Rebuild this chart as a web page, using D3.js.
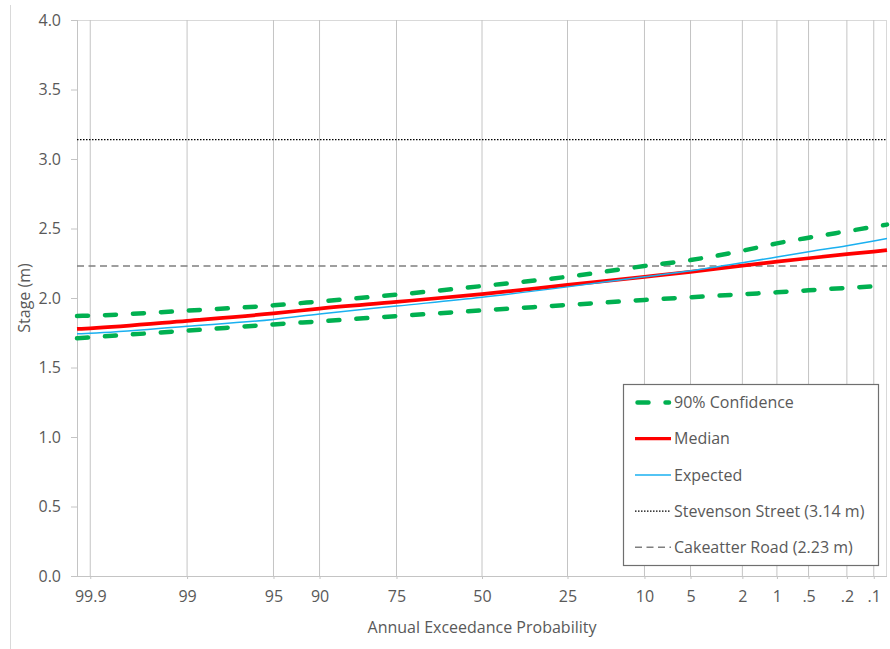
<!DOCTYPE html>
<html>
<head>
<meta charset="utf-8">
<script src="https://cdn.jsdelivr.net/npm/d3@7/dist/d3.min.js"></script>
<style>
  html, body { margin: 0; padding: 0; background: #fff; }
  svg { display: block; font-family: "Open Sans", sans-serif; }
</style>
</head>
<body>
<svg id="chart" width="890" height="649"></svg>
<script>
// Annual exceedance probability (%) at which each curve is evaluated
const aep = [99.93, 99.9, 99, 95, 90, 75, 50, 25, 10, 5, 2, 1, 0.5, 0.2, 0.1, 0.07];

// Stage-frequency curves (m)
const median   = [1.777, 1.782, 1.836, 1.889, 1.924, 1.972, 2.028, 2.094, 2.152, 2.188, 2.233, 2.261, 2.286, 2.315, 2.334, 2.344];
const expected = [1.742, 1.746, 1.797, 1.846, 1.885, 1.942, 2.005, 2.080, 2.153, 2.196, 2.254, 2.295, 2.333, 2.376, 2.410, 2.428];
const upper90  = [1.871, 1.873, 1.909, 1.947, 1.975, 2.024, 2.086, 2.153, 2.230, 2.273, 2.340, 2.393, 2.434, 2.480, 2.512, 2.528];
const lower90  = [1.710, 1.717, 1.765, 1.810, 1.832, 1.870, 1.911, 1.950, 1.986, 2.005, 2.027, 2.041, 2.055, 2.073, 2.084, 2.091];

// Reference levels (m)
const stevensonStreet = 3.14;
const cakeatterRoad = 2.23;

// Axis ticks
const xTickAep = [99.9, 99, 95, 90, 75, 50, 25, 10, 5, 2, 1, 0.5, 0.2, 0.1];
const xTickLabels = ["99.9", "99", "95", "90", "75", "50", "25", "10", "5", "2", "1", ".5", ".2", ".1"];
const yTicks = [0, 0.5, 1, 1.5, 2, 2.5, 3, 3.5, 4];

// Inverse standard normal CDF (Acklam's rational approximation)
function probit(p) {
  const a = [-3.969683028665376e+01, 2.209460984245205e+02, -2.759285104469687e+02, 1.383577518672690e+02, -3.066479806614716e+01, 2.506628277459239e+00];
  const b = [-5.447609879822406e+01, 1.615858368580409e+02, -1.556989798598866e+02, 6.680131188771972e+01, -1.328068155288572e+01];
  const c = [-7.784894002430293e-03, -3.223964580411365e-01, -2.400758277161838e+00, -2.549671168501671e+00, 4.374664141464968e+00, 2.938163982698783e+00];
  const d = [7.784695709041462e-03, 3.224671290700398e-01, 2.445134137142996e+00, 3.754408661907416e+00];
  const pl = 0.02425, ph = 1 - pl;
  let q, r;
  if (p < pl) {
    q = Math.sqrt(-2 * Math.log(p));
    return (((((c[0]*q+c[1])*q+c[2])*q+c[3])*q+c[4])*q+c[5]) / ((((d[0]*q+d[1])*q+d[2])*q+d[3])*q+1);
  } else if (p <= ph) {
    q = p - 0.5; r = q * q;
    return (((((a[0]*r+a[1])*r+a[2])*r+a[3])*r+a[4])*r+a[5])*q / (((((b[0]*r+b[1])*r+b[2])*r+b[3])*r+b[4])*r+1);
  } else {
    q = Math.sqrt(-2 * Math.log(1 - p));
    return -(((((c[0]*q+c[1])*q+c[2])*q+c[3])*q+c[4])*q+c[5]) / ((((d[0]*q+d[1])*q+d[2])*q+d[3])*q+1);
  }
}
// Normal-probability position of an exceedance percentage
const zOf = pct => probit(1 - pct / 100);

const svg = d3.select("#chart");
const plot = { left: 77, right: 887, top: 20, bottom: 576 };

const x = d3.scaleLinear()
  .domain([zOf(d3.max(aep)), zOf(d3.min(aep))])
  .range([plot.left, plot.right]);
const y = d3.scaleLinear().domain([0, 4]).range([plot.bottom, plot.top]);

const textColor = "#595959";
const gridColor = "#c4c4c4";

// Outer chart frame
svg.append("line")
  .attr("x1", 10.5).attr("x2", 10.5).attr("y1", 5).attr("y2", 649)
  .attr("stroke", "#d9d9d9");

// Plot frame (top and right)
svg.append("line")
  .attr("x1", plot.left).attr("x2", plot.right).attr("y1", plot.top + 0.5).attr("y2", plot.top + 0.5)
  .attr("stroke", "#d9d9d9");
svg.append("line")
  .attr("x1", plot.right - 0.5).attr("x2", plot.right - 0.5).attr("y1", plot.top).attr("y2", plot.bottom)
  .attr("stroke", "#d9d9d9");

// Vertical gridlines at each probability tick
svg.append("g").selectAll("line")
  .data(xTickAep)
  .join("line")
  .attr("x1", d => x(zOf(d))).attr("x2", d => x(zOf(d)))
  .attr("y1", plot.top).attr("y2", plot.bottom)
  .attr("stroke", gridColor).attr("stroke-width", 1);

// X axis
const xAxis = d3.axisBottom(x)
  .tickValues(xTickAep.map(zOf))
  .tickFormat((d, i) => xTickLabels[i])
  .tickSize(3)
  .tickPadding(12);
const gx = svg.append("g")
  .attr("transform", `translate(0,${plot.bottom})`)
  .call(xAxis);
gx.select(".domain").attr("stroke", gridColor).attr("d", `M${plot.left},0.5H${plot.right}`);
gx.selectAll(".tick line").attr("stroke", gridColor);
gx.selectAll(".tick text")
  .attr("fill", textColor)
  .style("font-size", "16px")
  .style("font-family", "'Open Sans', sans-serif");

// Y axis
const yAxis = d3.axisLeft(y)
  .tickValues(yTicks)
  .tickFormat(d3.format(".1f"))
  .tickSize(6)
  .tickPadding(10);
const gy = svg.append("g")
  .attr("transform", `translate(${plot.left},0)`)
  .call(yAxis);
gy.select(".domain").attr("stroke", gridColor).attr("d", `M0.5,${plot.top}V${plot.bottom}`);
gy.selectAll(".tick line").attr("stroke", gridColor);
gy.selectAll(".tick text")
  .attr("fill", textColor)
  .style("font-size", "16px")
  .style("font-family", "'Open Sans', sans-serif");

// Axis titles
svg.append("text")
  .attr("x", (plot.left + plot.right) / 2).attr("y", 633)
  .attr("text-anchor", "middle")
  .attr("fill", textColor)
  .style("font-size", "16px")
  .text("Annual Exceedance Probability");
svg.append("text")
  .attr("transform", `translate(30,${(plot.top + plot.bottom) / 2}) rotate(-90)`)
  .attr("text-anchor", "middle")
  .attr("fill", textColor)
  .style("font-size", "16px")
  .text("Stage (m)");

// Line styles
const styles = {
  conf:      { stroke: "#00b050", width: 4.5, dash: "11,17", cap: "round" },
  median:    { stroke: "#ff0000", width: 3.75, dash: null, cap: "butt" },
  expected:  { stroke: "#1ab0f0", width: 1.5, dash: null, cap: "butt" },
  stevenson: { stroke: "#000000", width: 1.3, dash: "1.5,1.5", cap: "butt" },
  cakeatter: { stroke: "#7f7f7f", width: 1.6, dash: "7,4.5", cap: "butt" }
};

function styled(sel, s) {
  return sel.attr("fill", "none")
    .attr("stroke", s.stroke)
    .attr("stroke-width", s.width)
    .attr("stroke-dasharray", s.dash)
    .attr("stroke-linecap", s.cap);
}

// Reference levels
styled(svg.append("line")
  .attr("x1", plot.left).attr("x2", plot.right)
  .attr("y1", y(stevensonStreet)).attr("y2", y(stevensonStreet)), styles.stevenson);
styled(svg.append("line")
  .attr("x1", plot.left).attr("x2", plot.right)
  .attr("y1", y(cakeatterRoad)).attr("y2", y(cakeatterRoad)), styles.cakeatter);

// Frequency curves
const line = d3.line()
  .x(d => x(zOf(d[0])))
  .y(d => y(d[1]))
  .curve(d3.curveMonotoneX);
const pts = vals => aep.map((p, i) => [p, vals[i]]);

styled(svg.append("path").attr("d", line(pts(upper90))), styles.conf);
styled(svg.append("path").attr("d", line(pts(lower90))), styles.conf);
styled(svg.append("path").attr("d", line(pts(median))), styles.median);
styled(svg.append("path").attr("d", line(pts(expected))), styles.expected);

// Legend
const legendItems = [
  { label: "90% Confidence", style: styles.conf },
  { label: "Median", style: { ...styles.median, width: 3.2 } },
  { label: "Expected", style: styles.expected },
  { label: "Stevenson Street (3.14 m)", style: styles.stevenson },
  { label: "Cakeatter Road (2.23 m)", style: styles.cakeatter }
];
const legend = svg.append("g");
legend.append("rect")
  .attr("x", 623.5).attr("y", 384.5).attr("width", 255).attr("height", 181)
  .attr("fill", "#fff").attr("stroke", "#6f6f6f").attr("stroke-width", 1.2);
const rows = legend.selectAll("g.row")
  .data(legendItems)
  .join("g")
  .attr("class", "row")
  .attr("transform", (d, i) => `translate(0,${402.5 + i * 36.2})`);
rows.each(function (d) {
  const g = d3.select(this);
  const round = d.style.cap === "round";
  styled(g.append("line")
    .attr("x1", round ? 637.5 : 635).attr("x2", round ? 669 : 671)
    .attr("y1", 0).attr("y2", 0), d.style);
  g.append("text")
    .attr("x", 674).attr("y", 5.7)
    .attr("fill", textColor)
    .style("font-size", "16px")
    .text(d.label);
});
</script>
</body>
</html>
